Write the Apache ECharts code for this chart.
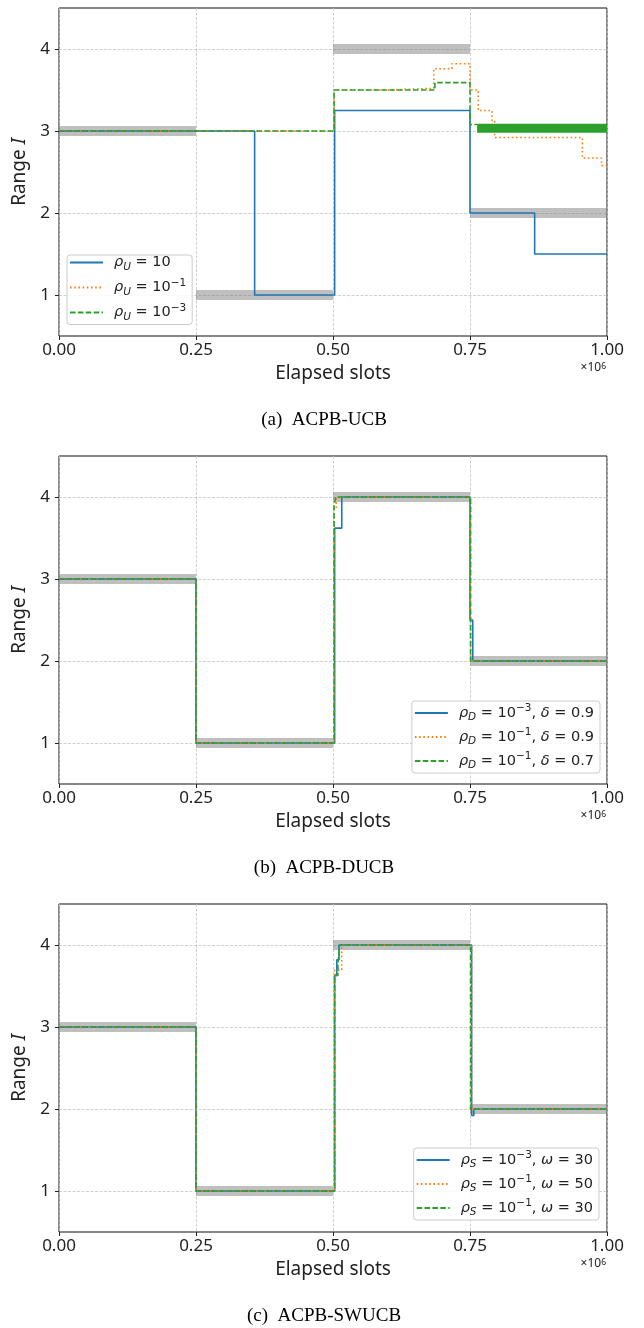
<!DOCTYPE html>
<html><head><meta charset="utf-8">
<script src="https://cdn.jsdelivr.net/npm/echarts@6/dist/echarts.min.js"></script>
<style>html,body{margin:0;padding:0;background:#fff;} #c{width:644px;height:1328px;}</style>
</head><body><div id="c"></div>
<script>
// ---------- data ----------
const xTicks = [0, 0.25, 0.5, 0.75, 1.0];
const yTicks = [1, 2, 3, 4];
const truthX = [0, 0.25, 0.5, 0.75, 1.0];
const truthV = [3, 1, 4, 2];

// (a) ACPB-UCB
const aBlueX = [0, 0.357, 0.503, 0.75, 0.868, 1.0];
const aBlueV = [3, 1, 3.25, 2, 1.5, 1.5];
const aOrangeX = [0, 0.502, 0.598, 0.684, 0.717, 0.75, 0.765, 0.79, 0.795, 0.955, 0.99, 1.0];
const aOrangeV = [3, 3.5, 3.52, 3.76, 3.82, 3.5, 3.25, 3.13, 2.92, 2.67, 2.58, 2.58];
const aGreenX = [0, 0.502, 0.686, 0.75, 0.763];
const aGreenV = [3, 3.5, 3.59, 3.08, 3.08];
const aGreenBandX = [0.763, 1.0];     // rapid oscillation region
const aGreenBandLow = 2.98, aGreenBandHigh = 3.09;

// (b) ACPB-DUCB
const bBlueX = [0, 0.25, 0.503, 0.516, 0.75, 0.755, 1.0];
const bBlueV = [3, 1, 3.62, 4, 2.5, 2, 2];
const bOrangeX = [0, 0.25, 0.502, 0.506, 0.751, 1.0];
const bOrangeV = [3, 1, 3.85, 4, 2, 2];
const bGreenX = [0, 0.25, 0.502, 0.505, 0.751, 1.0];
const bGreenV = [3, 1, 3.9, 4, 2, 2];

// (c) ACPB-SWUCB
const cBlueX = [0, 0.25, 0.503, 0.507, 0.511, 0.753, 0.757, 1.0];
const cBlueV = [3, 1, 3.63, 3.82, 4, 1.92, 2, 2];
const cOrangeX = [0, 0.25, 0.503, 0.516, 0.753, 1.0];
const cOrangeV = [3, 1, 3.69, 4, 2, 2];
const cGreenX = [0, 0.25, 0.503, 0.509, 0.512, 0.751, 1.0];
const cGreenV = [3, 1, 3.63, 3.76, 4, 2, 2];

const legendA = ['{g| }{i|ρ}{s|U}{n| = 10}', '{g| }{i|ρ}{s|U}{n| = 10}{p|−1}', '{g| }{i|ρ}{s|U}{n| = 10}{p|−3}'];
const legendB = ['{g| }{i|ρ}{s|D}{n| = 10}{p|−3}{n|, }{i|δ}{n| = 0.9}', '{g| }{i|ρ}{s|D}{n| = 10}{p|−1}{n|, }{i|δ}{n| = 0.9}', '{g| }{i|ρ}{s|D}{n| = 10}{p|−1}{n|, }{i|δ}{n| = 0.7}'];
const legendC = ['{g| }{i|ρ}{s|S}{n| = 10}{p|−3}{n|, }{i|ω}{n| = 30}', '{g| }{i|ρ}{s|S}{n| = 10}{p|−1}{n|, }{i|ω}{n| = 50}', '{g| }{i|ρ}{s|S}{n| = 10}{p|−1}{n|, }{i|ω}{n| = 30}'];
const captions = ['(a)  ACPB-UCB', '(b)  ACPB-DUCB', '(c)  ACPB-SWUCB'];

// ---------- build ----------
const C_BLUE = '#1f77b4', C_ORANGE = '#ff7f0e', C_GREEN = '#2ca02c';
const tops = [8, 456, 904];
const pair = (xs, vs) => xs.map((x, i) => [x, vs[i]]);
function truthData() {
  const d = [];
  for (let i = 0; i < truthV.length; i++) {
    d.push([truthX[i], truthV[i]], [truthX[i + 1], truthV[i]], [truthX[i + 1], '-']);
  }
  return d;
}
const panels = [
  {blue: pair(aBlueX, aBlueV), orange: pair(aOrangeX, aOrangeV), green: pair(aGreenX, aGreenV), legend: legendA},
  {blue: pair(bBlueX, bBlueV), orange: pair(bOrangeX, bOrangeV), green: pair(bGreenX, bGreenV), legend: legendB},
  {blue: pair(cBlueX, cBlueV), orange: pair(cOrangeX, cOrangeV), green: pair(cGreenX, cGreenV), legend: legendC}
];
const labelMap = {};
const grid = [], xAxis = [], yAxis = [], series = [], legend = [], graphic = [];
const txt = '#222';
const legendPos = [
  {left: 67, top: 255, padding: [0, 6, 2, 2], itemGap: 5},
  {right: 44, top: 701, padding: [2, 6, 2, 2], itemGap: 4},
  {right: 45, top: 1148, padding: [2, 6, 2, 2], itemGap: 4}
];
panels.forEach((p, k) => {
  grid.push({left: 59, top: tops[k], width: 548, height: 328, show: true, borderColor: '#111', borderWidth: 1, backgroundColor: 'transparent'});
  xAxis.push({
    type: 'value', gridIndex: k, min: 0, max: 1, interval: 0.25,
    axisLine: {show: false},
    axisTick: {show: true, length: 4, lineStyle: {color: txt, width: 1}},
    axisLabel: {formatter: v => v.toFixed(2), fontSize: 17, color: txt, margin: 6, fontFamily: 'Noto Sans'},
    splitLine: {show: true, lineStyle: {type: [3, 1.5], color: '#c4c4c4', width: 0.8}},
    name: 'Elapsed slots', nameLocation: 'middle', nameGap: 28,
    nameTextStyle: {fontSize: 19, color: txt, fontFamily: 'Noto Sans'}
  });
  yAxis.push({
    type: 'value', gridIndex: k, min: 0.5, max: 4.5,
    axisLine: {show: false},
    axisTick: {show: true, length: 4, customValues: yTicks, lineStyle: {color: txt, width: 1}},
    axisLabel: {customValues: yTicks, fontSize: 17, color: txt, margin: 9, fontFamily: 'Noto Sans'},
    splitLine: {show: true, customValues: yTicks, lineStyle: {type: [3, 1.5], color: '#c4c4c4', width: 0.8}},
    name: '{n|Range }{i|I}', nameLocation: 'middle', nameGap: 24,
    nameTextStyle: {color: txt, rich: {n: {fontSize: 19, fontFamily: 'Noto Sans', color: txt}, i: {fontSize: 19, fontFamily: 'Noto Sans', fontStyle: 'italic', color: txt}}}
  });
  series.push({
    type: 'line', name: 'truth' + k, xAxisIndex: k, yAxisIndex: k, data: truthData(),
    symbol: 'none', connectNulls: false, z: 1, silent: true,
    lineStyle: {color: 'rgba(128,128,128,0.5)', width: 10, cap: 'butt'}
  });
  const names = ['s' + k + '0', 's' + k + '1', 's' + k + '2'];
  names.forEach((n, j) => labelMap[n] = p.legend[j]);
  series.push({type: 'line', name: names[0], xAxisIndex: k, yAxisIndex: k, data: p.blue, step: 'end', symbol: 'none', z: 3,
    lineStyle: {color: C_BLUE, width: 1.6}, itemStyle: {color: C_BLUE}});
  series.push({type: 'line', name: names[1], xAxisIndex: k, yAxisIndex: k, data: p.orange, step: 'end', symbol: 'none', z: 4,
    lineStyle: {color: C_ORANGE, width: 1.6, type: [1.6, 2.6]}, itemStyle: {color: C_ORANGE}});
  series.push({type: 'line', name: names[2], xAxisIndex: k, yAxisIndex: k, data: p.green, step: 'end', symbol: 'none', z: 5,
    lineStyle: {color: C_GREEN, width: 1.6, type: [5.5, 2.4]}, itemStyle: {color: C_GREEN}});
  if (k === 0) {
    const mid = (aGreenBandLow + aGreenBandHigh) / 2;
    series.push({type: 'line', name: 'band', xAxisIndex: 0, yAxisIndex: 0, data: aGreenBandX.map(x => [x, mid]),
      symbol: 'none', z: 5, silent: true, lineStyle: {color: C_GREEN, width: 9, cap: 'butt'}});
  }
  legend.push(Object.assign({
    data: names, orient: 'vertical', itemWidth: 33, itemHeight: 14, selectedMode: false,
    itemStyle: {opacity: 0},
    backgroundColor: 'rgba(255,255,255,0.85)', borderColor: '#cccccc', borderWidth: 1, borderRadius: 3,
    formatter: name => labelMap[name],
    textStyle: {fontFamily: 'DejaVu Sans', fontSize: 14.5, color: txt, rich: {
      g: {width: 6, fontSize: 14.5, lineHeight: 20},
      n: {fontSize: 14.5, lineHeight: 20, fontFamily: 'DejaVu Sans', color: txt},
      i: {fontSize: 14.5, lineHeight: 20, fontStyle: 'italic', fontFamily: 'DejaVu Sans', color: txt},
      s: {fontSize: 10.5, lineHeight: 12, fontStyle: 'italic', verticalAlign: 'bottom', fontFamily: 'DejaVu Sans', color: txt},
      p: {fontSize: 10.5, lineHeight: 12, verticalAlign: 'top', fontFamily: 'DejaVu Sans', color: txt}
    }}
  }, legendPos[k]));
  graphic.push({type: 'text', x: 324, y: tops[k] + 412, style: {text: captions[k], fontSize: 19, fontFamily: 'Liberation Serif', fill: '#000', align: 'center', verticalAlign: 'middle'}});
  graphic.push({type: 'text', x: 606, y: tops[k] + 360, style: {text: '×10{p|6}', fontSize: 12, fontFamily: 'Noto Sans', fill: txt, align: 'right', verticalAlign: 'middle',
    rich: {p: {fontSize: 8.5, lineHeight: 10, verticalAlign: 'top', fontFamily: 'Noto Sans', fill: txt}}}});
});

const chart = echarts.init(document.getElementById('c'), null, {renderer: 'canvas'});
chart.setOption({animation: false, backgroundColor: '#fff', grid, xAxis, yAxis, series, legend, graphic});
</script>
</body></html>
